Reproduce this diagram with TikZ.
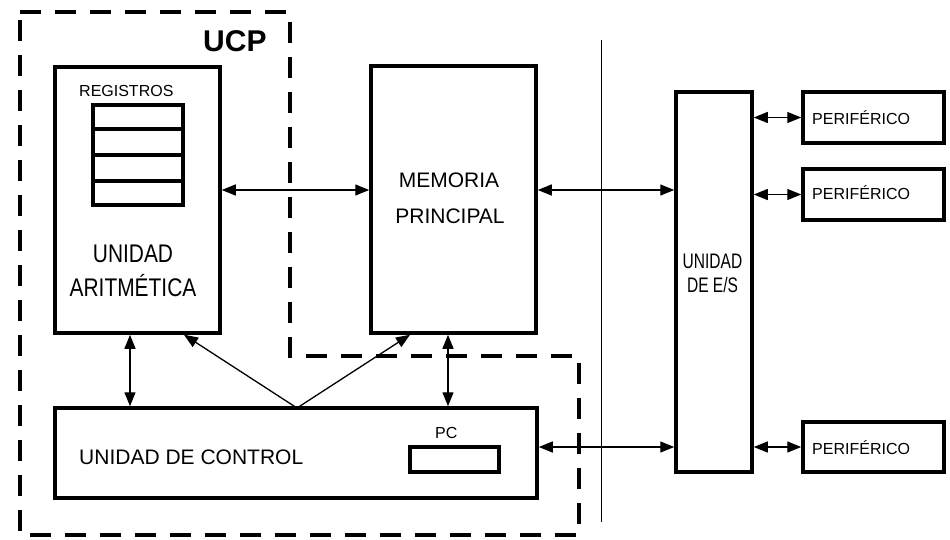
\documentclass[tikz,border=0pt]{standalone}
\usepackage{fontspec}
\setmainfont{Liberation Sans}
\newfontfamily\aluface[FakeStretch=0.82]{Liberation Sans}
\newfontfamily\ioface[FakeStretch=0.74]{Liberation Sans}
\usetikzlibrary{arrows.meta,calc}
\begin{document}
\begin{tikzpicture}[x=1pt,y=-1pt,
  box/.style={draw,line width=3.5pt,rectangle,inner sep=0pt,align=center},
  thin/.style={line width=1.3pt},
  dbl/.style={thin,{Triangle[length=14pt,width=11pt]}-{Triangle[length=14pt,width=11pt]}},
  sgl/.style={thin,-{Triangle[length=14pt,width=11pt]}},
  lbl/.style={inner sep=0pt,anchor=base},
  lblw/.style={inner sep=0pt,anchor=base west},
  big/.style={font=\fontsize{21}{24}\selectfont},
  alufont/.style={font=\aluface\fontsize{25.5}{28}\selectfont},
  iofont/.style={font=\ioface\fontsize{21}{24}\selectfont},
  small/.style={font=\fontsize{16}{19}\selectfont},
  ucpline/.style={line width=4.5pt,dash pattern=on 21pt off 14pt}]
\useasboundingbox (0,0) rectangle (950,540);
% UCP dashed region
\draw[ucpline] (20,12) -- (290,12) -- (290,356) -- (579,356) -- (579,535) -- (20,535) -- cycle;
\node[lblw,font=\fontsize{30}{33}\selectfont\bfseries] (ucp) at (203,52) {UCP};
% ALU
\node[box,minimum width=165pt,minimum height=266pt] (alu) at (137.5,200) {};
\node[small,lblw] (regl) at (79,97) {REGISTROS};
\node[box,minimum width=90pt,minimum height=100pt] (reg) at (138,155) {};
\draw[line width=3.5pt] ($(reg.north west)!0.25!(reg.south west)$) -- ($(reg.north east)!0.25!(reg.south east)$);
\draw[line width=3.5pt] ($(reg.north west)!0.5!(reg.south west)$) -- ($(reg.north east)!0.5!(reg.south east)$);
\draw[line width=3.5pt] ($(reg.north west)!0.75!(reg.south west)$) -- ($(reg.north east)!0.75!(reg.south east)$);
\node[alufont,lbl] (alut1) at (133,262) {UNIDAD};
\node[alufont,lbl] (alut2) at (133,296) {ARITMÉTICA};
% Memory
\node[box,minimum width=165pt,minimum height=267pt] (mem) at (453.5,199.5) {};
\node[big,lbl] (memt1) at (449,188) {MEMORIA};
\node[big,lbl] (memt2) at (450,223) {PRINCIPAL};
% Control unit
\node[box,minimum width=482pt,minimum height=90pt] (cu) at (296,453) {};
\node[big,lblw] (cut) at (79,464) {UNIDAD DE CONTROL};
\node[box,minimum width=89pt,minimum height=25pt] (pc) at (454.5,459.5) {};
\node[small,lblw] (pct) at (435,438) {PC};
% I/O unit
\node[box,minimum width=76pt,minimum height=380pt] (io) at (714,282) {};
\node[iofont,lbl] (iot1) at (712.5,268) {UNIDAD};
\node[iofont,lbl] (iot2) at (712.5,292) {DE E/S};
% Peripherals
\node[box,minimum width=141pt,minimum height=51pt] (p1) at (873.5,117.5) {};
\node[small,lblw] (p1t) at (812,125) {PERIFÉRICO};
\node[box,minimum width=141pt,minimum height=51pt] (p2) at (873.5,194.5) {};
\node[small,lblw] (p2t) at (812,200) {PERIFÉRICO};
\node[box,minimum width=141pt,minimum height=50pt] (p3) at (873.5,447) {};
\node[small,lblw] (p3t) at (812,454) {PERIFÉRICO};
% divider
\coordinate (d1) at (601,40);
\coordinate (d2) at (601,522);
\draw[line width=0.8pt] (d1) -- (d2);
% connectors
\draw[dbl] (alu.east |- 0,190) -- (mem.west |- 0,190);
\draw[dbl] (mem.east |- 0,190) -- (io.west |- 0,190);
\draw[dbl] (cu.east |- 0,447) -- (io.west |- 0,447);
\draw[dbl] (alu.south -| 130,0) -- (cu.north -| 130,0);
\draw[dbl] (mem.south -| 448,0) -- (cu.north -| 448,0);
\coordinate (fan) at (297,408);
\draw[sgl] (fan) -- (alu.south -| 184,0);
\draw[sgl] (fan) -- (mem.south -| 410,0);
\draw[dbl] (io.east |- p1) -- (p1.west);
\draw[dbl] (io.east |- p2) -- (p2.west);
\draw[dbl] (io.east |- p3) -- (p3.west);
\end{tikzpicture}
\end{document}
